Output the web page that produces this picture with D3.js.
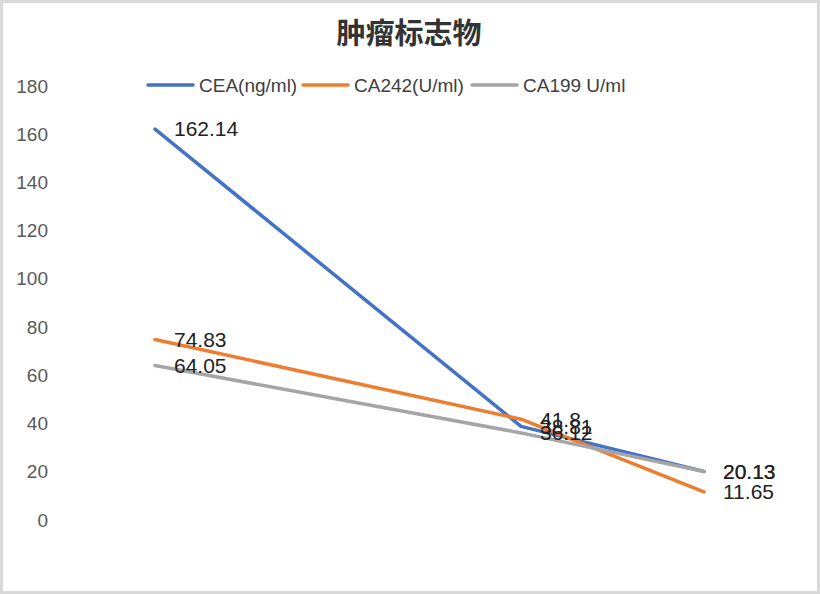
<!DOCTYPE html>
<html>
<head>
<meta charset="utf-8">
<script src="https://cdn.jsdelivr.net/npm/d3@7"></script>
<style>
body { margin: 0; background: #fff; }
text { font-family: "Liberation Sans", Arial, sans-serif; }
</style>
</head>
<body>
<div id="chart"></div>
<script>
// x position of each test (relative), hidden axis
var tests = [1, 3, 4];
var seriesNames = ['CEA(ng/ml)', 'CA242(U/ml)', 'CA199 U/ml'];
var ceaValues = [162.14, 38.81, 20.13];
var ca242Values = [74.83, 41.8, 11.65];
var ca199Values = [64.05, 36.12, 20.13];
var yTicks = [0, 20, 40, 60, 80, 100, 120, 140, 160, 180];
var colors = ['#4472C4', '#ED7D31', '#A5A5A5'];

var W = 820, H = 594;
var margin = {top: 86, right: 116, bottom: 74, left: 155};

var svg = d3.select('#chart').append('svg')
    .attr('width', W)
    .attr('height', H);

// frame
svg.append('rect')
    .attr('x', 1.5).attr('y', 1.5)
    .attr('width', W - 3).attr('height', H - 3)
    .attr('fill', '#fff')
    .attr('stroke', '#d9d9d9')
    .attr('stroke-width', 3);

var x = d3.scaleLinear().domain([1, 4]).range([margin.left, W - margin.right]);
var y = d3.scaleLinear().domain([0, 180]).range([H - margin.bottom, margin.top]);

svg.append('text')
    .attr('x', 409)
    .attr('y', 44)
    .attr('text-anchor', 'middle')
    .style('font-family', '"Noto Sans CJK SC", sans-serif')
    .style('font-size', '29px')
    .style('font-weight', 'bold')
    .attr('fill', '#333')
    .text('肿瘤标志物');

// Y axis labels only
var yAxis = svg.append('g')
    .attr('transform', 'translate(48,0)')
    .call(d3.axisLeft(y).tickValues(yTicks).tickSize(0).tickPadding(0));
yAxis.select('.domain').remove();
yAxis.selectAll('text')
    .style('font-size', '19px')
    .attr('fill', '#595959');

var data = [ceaValues, ca242Values, ca199Values];

var line = d3.line()
    .x(function (d, i) { return x(tests[i]); })
    .y(function (d) { return y(d); });

data.forEach(function (vals, s) {
    svg.append('path')
        .datum(vals)
        .attr('d', line)
        .attr('fill', 'none')
        .attr('stroke', colors[s])
        .attr('stroke-width', 3.5)
        .attr('stroke-linejoin', 'round')
        .attr('stroke-linecap', 'round');
});

data.forEach(function (vals, s) {
    svg.selectAll('.lbl' + s)
        .data(vals)
        .enter().append('text')
        .attr('x', function (d, i) { return x(tests[i]) + 19; })
        .attr('y', function (d) { return y(d); })
        .attr('dy', '0.35em')
        .style('font-size', '21px')
        .attr('fill', '#222')
        .text(function (d) { return d; });
});

// legend
var legendX = [148, 303, 472];
var leg = svg.append('g');
seriesNames.forEach(function (name, i) {
    leg.append('line')
        .attr('x1', legendX[i]).attr('x2', legendX[i] + 45)
        .attr('y1', 85).attr('y2', 85)
        .attr('stroke', colors[i])
        .attr('stroke-width', 3.5)
        .attr('stroke-linecap', 'round');
    leg.append('text')
        .attr('x', legendX[i] + 51)
        .attr('y', 85)
        .attr('dy', '0.35em')
        .style('font-size', '19px')
        .attr('fill', '#404040')
        .text(name);
});
</script>
</body>
</html>
